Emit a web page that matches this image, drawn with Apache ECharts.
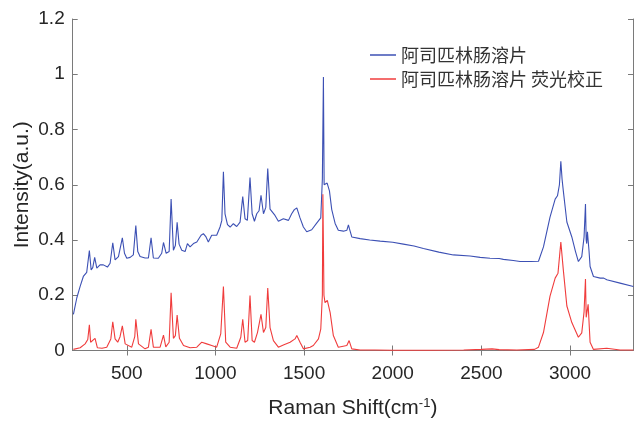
<!DOCTYPE html>
<html>
<head>
<meta charset="utf-8">
<script src="https://cdn.jsdelivr.net/npm/echarts@6/dist/echarts.min.js"></script>
<style>
  html, body { margin: 0; padding: 0; background: #fff; }
  #chart { width: 634px; height: 424px; }
</style>
</head>
<body>
<div id="chart"></div>
<script>
// 原始光谱
const blueShift = [199,218,237,255,274,289,299,308,319,331,349,368,391,406,421,434,453,462,475,487,500,519,537,551,562,575,603,622,637,650,678,697,707,722,739,750,763,774,784,795,810,829,842,857,876,895,919,932,947,960,979,1007,1026,1036,1045,1054,1068,1083,1101,1120,1139,1154,1167,1180,1195,1207,1220,1233,1246,1257,1271,1284,1295,1308,1319,1336,1355,1383,1412,1430,1445,1459,1477,1496,1515,1543,1571,1594,1603,1609,1613,1618,1630,1643,1656,1675,1693,1722,1741,1750,1756,1769,1816,1870,1929,2000,2060,2120,2173,2260,2342,2436,2493,2549,2600,2624,2680,2718,2780,2822,2850,2887,2916,2929,2940,2948,2955,2962,2982,3010,3030,3047,3066,3079,3087,3091,3094,3098,3102,3107,3113,3132,3170,3190,3207,3282,3357];
const blueIntensity = [0.131,0.19,0.232,0.268,0.283,0.362,0.292,0.30,0.337,0.298,0.31,0.31,0.302,0.316,0.39,0.328,0.34,0.333,0.408,0.352,0.334,0.337,0.346,0.452,0.358,0.34,0.335,0.335,0.408,0.335,0.334,0.352,0.391,0.352,0.358,0.548,0.363,0.38,0.464,0.385,0.363,0.358,0.387,0.375,0.387,0.393,0.417,0.423,0.411,0.393,0.417,0.417,0.447,0.471,0.647,0.495,0.456,0.447,0.459,0.449,0.465,0.557,0.477,0.471,0.626,0.495,0.468,0.495,0.506,0.562,0.495,0.518,0.659,0.512,0.506,0.489,0.468,0.477,0.471,0.495,0.51,0.516,0.48,0.447,0.43,0.437,0.461,0.48,0.62,0.99,0.60,0.598,0.606,0.578,0.51,0.46,0.435,0.432,0.435,0.455,0.44,0.411,0.405,0.40,0.396,0.392,0.385,0.378,0.369,0.356,0.346,0.342,0.337,0.334,0.333,0.330,0.326,0.322,0.322,0.323,0.375,0.483,0.548,0.560,0.60,0.685,0.62,0.578,0.465,0.411,0.36,0.322,0.340,0.411,0.530,0.40,0.387,0.43,0.429,0.36,0.304,0.268,0.262,0.262,0.256,0.244,0.232];

// 荧光校正后
const redShift = [199,237,265,280,289,296,303,321,334,360,387,410,421,434,449,462,475,491,528,545,551,566,603,622,637,650,688,707,720,739,750,763,774,784,797,820,857,895,923,951,979,1007,1030,1045,1058,1083,1120,1143,1154,1167,1182,1195,1207,1220,1237,1257,1271,1284,1295,1308,1327,1355,1383,1421,1449,1459,1477,1496,1534,1552,1581,1594,1603,1606,1612,1618,1631,1647,1665,1693,1741,1754,1769,1816,1900,2000,2200,2400,2500,2560,2600,2700,2800,2822,2850,2887,2916,2932,2948,2962,2982,3010,3047,3066,3079,3087,3091,3094,3102,3113,3132,3207,3282,3357];
const redIntensity = [0.004,0.01,0.024,0.04,0.093,0.03,0.024,0.044,0.01,0.008,0.012,0.042,0.104,0.042,0.03,0.05,0.089,0.024,0.012,0.05,0.113,0.024,0.006,0.012,0.077,0.012,0.012,0.056,0.013,0.03,0.209,0.044,0.054,0.128,0.044,0.018,0.01,0.012,0.03,0.024,0.018,0.012,0.06,0.232,0.03,0.012,0.008,0.048,0.113,0.03,0.036,0.199,0.036,0.03,0.065,0.131,0.065,0.083,0.226,0.083,0.036,0.012,0.02,0.03,0.042,0.054,0.03,0.006,0.012,0.018,0.042,0.077,0.2,0.566,0.2,0.173,0.181,0.137,0.054,0.012,0.018,0.036,0.006,0.002,0.002,0.001,0.001,0.002,0.004,0.006,0.003,0.002,0.004,0.012,0.065,0.197,0.262,0.28,0.393,0.292,0.161,0.101,0.048,0.064,0.14,0.259,0.12,0.113,0.167,0.03,0.004,0.008,0.002,0.002];

const xTicks = [500, 1000, 1500, 2000, 2500, 3000];
const seriesNames = ['阿司匹林肠溶片', '阿司匹林肠溶片 荧光校正'];

function zip(xs, ys) {
  return xs.map((x, i) => [x, ys[i]]);
}

const axisGray = '#7a7a7a';
const textColor = '#262626';

const chart = echarts.init(document.getElementById('chart'));
chart.setOption({
  animation: false,
  grid: { left: 72.7, right: 1, top: 19, bottom: 69 },
  legend: {
    orient: 'vertical',
    left: 365,
    top: 40,
    icon: 'rect',
    itemWidth: 26,
    itemHeight: 1.5,
    itemGap: 4,
    textStyle: { fontFamily: 'Noto Sans CJK SC', fontSize: 18, color: '#333', lineHeight: 20 },
    data: seriesNames
  },
  xAxis: [
    {
      type: 'value', min: 195, max: 3355,
      name: '{a|Raman Shift(cm}{s|-1}{a|)}',
      nameLocation: 'middle', nameGap: 46, nameMoveOverlap: false,
      nameTextStyle: {
        rich: {
          a: { fontFamily: 'Liberation Sans', fontSize: 21, color: textColor, lineHeight: 24 },
          s: { fontFamily: 'Liberation Sans', fontSize: 13, color: textColor, verticalAlign: 'top', lineHeight: 14 }
        }
      },
      splitLine: { show: false },
      axisLine: { lineStyle: { color: axisGray } },
      axisTick: { inside: true, length: 5, customValues: xTicks, lineStyle: { color: axisGray } },
      axisLabel: {
        customValues: xTicks, margin: 14, fontFamily: 'Liberation Sans', fontSize: 19, color: textColor,
        formatter: v => String(v)
      }
    },
    {
      type: 'value', min: 195, max: 3355, position: 'top',
      splitLine: { show: false },
      axisLine: { lineStyle: { color: axisGray } },
      axisTick: { inside: true, length: 5, customValues: xTicks, lineStyle: { color: axisGray } },
      axisLabel: { show: false }
    }
  ],
  yAxis: [
    {
      type: 'value', min: 0, max: 1.2, interval: 0.2,
      name: 'Intensity(a.u.)',
      nameLocation: 'middle', nameGap: 40, nameMoveOverlap: false,
      nameTextStyle: { fontFamily: 'Liberation Sans', fontSize: 21, color: textColor },
      splitLine: { show: false },
      axisLine: { show: true, lineStyle: { color: axisGray } },
      axisTick: { show: true, inside: true, length: 5, lineStyle: { color: axisGray } },
      axisLabel: { margin: 8, fontFamily: 'Liberation Sans', fontSize: 19, color: textColor }
    },
    {
      type: 'value', min: 0, max: 1.2, interval: 0.2, position: 'right',
      splitLine: { show: false },
      axisLine: { show: true, lineStyle: { color: axisGray } },
      axisTick: { show: true, inside: true, length: 5, lineStyle: { color: axisGray } },
      axisLabel: { show: false }
    }
  ],
  series: [
    {
      name: seriesNames[0], type: 'line', symbol: 'none',
      data: zip(blueShift, blueIntensity),
      lineStyle: { color: '#3c50b4', width: 1.1 },
      itemStyle: { color: '#3c50b4' }
    },
    {
      name: seriesNames[1], type: 'line', symbol: 'none',
      data: zip(redShift, redIntensity),
      lineStyle: { color: '#f03c3c', width: 1.1 },
      itemStyle: { color: '#f03c3c' }
    }
  ]
});
</script>
</body>
</html>
